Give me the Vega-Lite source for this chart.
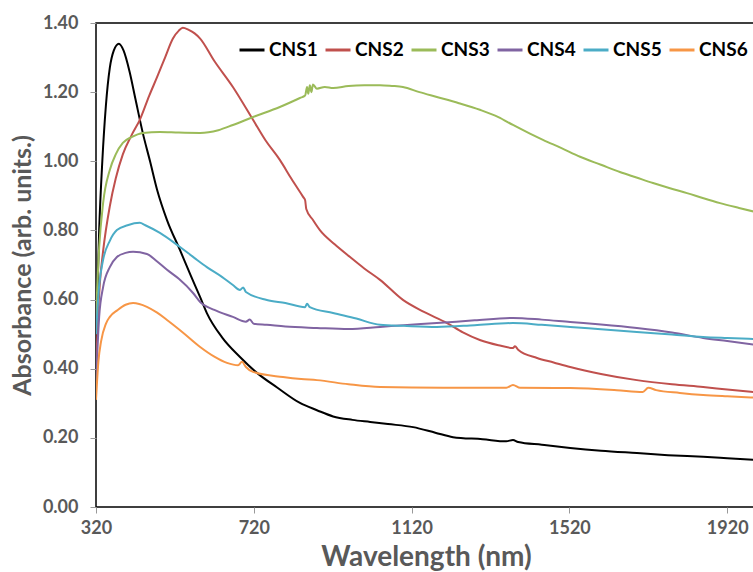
{
"$schema": "https://vega.github.io/schema/vega-lite/v6.json",
"width": 660, "height": 484,
"autosize": "none",
"padding": {"left": 96, "top": 23, "right": 0, "bottom": 65},
"background": "white",
"config": {"view": {"stroke": "#000000", "strokeWidth": 1.5}, "font": "Lato"},
"data": {"values": [
{"s":"CNS1","w":320,"a":0.47},{"s":"CNS1","w":328,"a":0.80},{"s":"CNS1","w":336,"a":1.00},{"s":"CNS1","w":345,"a":1.16},{"s":"CNS1","w":355,"a":1.27},{"s":"CNS1","w":365,"a":1.32},{"s":"CNS1","w":378,"a":1.34},{"s":"CNS1","w":390,"a":1.32},{"s":"CNS1","w":405,"a":1.26},{"s":"CNS1","w":420,"a":1.18},{"s":"CNS1","w":439,"a":1.08},{"s":"CNS1","w":457,"a":1.00},{"s":"CNS1","w":475,"a":0.917},{"s":"CNS1","w":500,"a":0.83},{"s":"CNS1","w":533,"a":0.743},{"s":"CNS1","w":560,"a":0.67},{"s":"CNS1","w":584,"a":0.607},{"s":"CNS1","w":601,"a":0.561},{"s":"CNS1","w":640,"a":0.49},{"s":"CNS1","w":685,"a":0.434},{"s":"CNS1","w":728,"a":0.388},{"s":"CNS1","w":780,"a":0.345},{"s":"CNS1","w":837,"a":0.301},{"s":"CNS1","w":880,"a":0.28},{"s":"CNS1","w":921,"a":0.262},{"s":"CNS1","w":970,"a":0.252},{"s":"CNS1","w":1015,"a":0.246},{"s":"CNS1","w":1060,"a":0.240},{"s":"CNS1","w":1124,"a":0.231},{"s":"CNS1","w":1180,"a":0.215},{"s":"CNS1","w":1225,"a":0.202},{"s":"CNS1","w":1300,"a":0.196},{"s":"CNS1","w":1360,"a":0.190},{"s":"CNS1","w":1377,"a":0.194},{"s":"CNS1","w":1390,"a":0.188},{"s":"CNS1","w":1450,"a":0.180},{"s":"CNS1","w":1522,"a":0.171},{"s":"CNS1","w":1600,"a":0.163},{"s":"CNS1","w":1691,"a":0.156},{"s":"CNS1","w":1770,"a":0.150},{"s":"CNS1","w":1859,"a":0.145},{"s":"CNS1","w":1920,"a":0.141},{"s":"CNS1","w":1993,"a":0.136},
{"s":"CNS2","w":320,"a":0.39},{"s":"CNS2","w":325,"a":0.55},{"s":"CNS2","w":330,"a":0.65},{"s":"CNS2","w":338,"a":0.74},{"s":"CNS2","w":355,"a":0.87},{"s":"CNS2","w":370,"a":0.95},{"s":"CNS2","w":388,"a":1.02},{"s":"CNS2","w":410,"a":1.075},{"s":"CNS2","w":431,"a":1.12},{"s":"CNS2","w":455,"a":1.19},{"s":"CNS2","w":475,"a":1.244},{"s":"CNS2","w":495,"a":1.30},{"s":"CNS2","w":515,"a":1.355},{"s":"CNS2","w":530,"a":1.378},{"s":"CNS2","w":540,"a":1.386},{"s":"CNS2","w":555,"a":1.38},{"s":"CNS2","w":570,"a":1.37},{"s":"CNS2","w":584,"a":1.355},{"s":"CNS2","w":620,"a":1.29},{"s":"CNS2","w":667,"a":1.215},{"s":"CNS2","w":718,"a":1.12},{"s":"CNS2","w":750,"a":1.06},{"s":"CNS2","w":786,"a":1.004},{"s":"CNS2","w":815,"a":0.95},{"s":"CNS2","w":845,"a":0.897},{"s":"CNS2","w":850,"a":0.888},{"s":"CNS2","w":853,"a":0.862},{"s":"CNS2","w":870,"a":0.83},{"s":"CNS2","w":888,"a":0.80},{"s":"CNS2","w":925,"a":0.76},{"s":"CNS2","w":964,"a":0.723},{"s":"CNS2","w":1000,"a":0.69},{"s":"CNS2","w":1040,"a":0.657},{"s":"CNS2","w":1098,"a":0.599},{"s":"CNS2","w":1150,"a":0.565},{"s":"CNS2","w":1210,"a":0.532},{"s":"CNS2","w":1250,"a":0.505},{"s":"CNS2","w":1293,"a":0.483},{"s":"CNS2","w":1340,"a":0.468},{"s":"CNS2","w":1377,"a":0.460},{"s":"CNS2","w":1382,"a":0.465},{"s":"CNS2","w":1390,"a":0.455},{"s":"CNS2","w":1438,"a":0.431},{"s":"CNS2","w":1480,"a":0.418},{"s":"CNS2","w":1522,"a":0.405},{"s":"CNS2","w":1600,"a":0.385},{"s":"CNS2","w":1691,"a":0.367},{"s":"CNS2","w":1780,"a":0.355},{"s":"CNS2","w":1859,"a":0.347},{"s":"CNS2","w":1920,"a":0.340},{"s":"CNS2","w":1993,"a":0.332},
{"s":"CNS3","w":320,"a":0.55},{"s":"CNS3","w":328,"a":0.75},{"s":"CNS3","w":338,"a":0.879},{"s":"CNS3","w":355,"a":0.975},{"s":"CNS3","w":370,"a":1.02},{"s":"CNS3","w":388,"a":1.053},{"s":"CNS3","w":410,"a":1.07},{"s":"CNS3","w":439,"a":1.082},{"s":"CNS3","w":482,"a":1.085},{"s":"CNS3","w":530,"a":1.083},{"s":"CNS3","w":584,"a":1.082},{"s":"CNS3","w":630,"a":1.09},{"s":"CNS3","w":667,"a":1.105},{"s":"CNS3","w":718,"a":1.128},{"s":"CNS3","w":786,"a":1.157},{"s":"CNS3","w":837,"a":1.183},{"s":"CNS3","w":850,"a":1.19},{"s":"CNS3","w":855,"a":1.215},{"s":"CNS3","w":858,"a":1.195},{"s":"CNS3","w":862,"a":1.22},{"s":"CNS3","w":866,"a":1.2},{"s":"CNS3","w":870,"a":1.222},{"s":"CNS3","w":880,"a":1.21},{"s":"CNS3","w":900,"a":1.215},{"s":"CNS3","w":921,"a":1.212},{"s":"CNS3","w":960,"a":1.218},{"s":"CNS3","w":1000,"a":1.22},{"s":"CNS3","w":1040,"a":1.22},{"s":"CNS3","w":1070,"a":1.218},{"s":"CNS3","w":1098,"a":1.215},{"s":"CNS3","w":1140,"a":1.2},{"s":"CNS3","w":1184,"a":1.186},{"s":"CNS3","w":1240,"a":1.168},{"s":"CNS3","w":1293,"a":1.149},{"s":"CNS3","w":1340,"a":1.128},{"s":"CNS3","w":1377,"a":1.105},{"s":"CNS3","w":1420,"a":1.08},{"s":"CNS3","w":1453,"a":1.062},{"s":"CNS3","w":1500,"a":1.038},{"s":"CNS3","w":1547,"a":1.013},{"s":"CNS3","w":1600,"a":0.99},{"s":"CNS3","w":1648,"a":0.969},{"s":"CNS3","w":1690,"a":0.953},{"s":"CNS3","w":1732,"a":0.937},{"s":"CNS3","w":1775,"a":0.922},{"s":"CNS3","w":1818,"a":0.908},{"s":"CNS3","w":1860,"a":0.893},{"s":"CNS3","w":1902,"a":0.879},{"s":"CNS3","w":1950,"a":0.865},{"s":"CNS3","w":1993,"a":0.853},
{"s":"CNS4","w":320,"a":0.36},{"s":"CNS4","w":328,"a":0.55},{"s":"CNS4","w":338,"a":0.636},{"s":"CNS4","w":355,"a":0.694},{"s":"CNS4","w":373,"a":0.723},{"s":"CNS4","w":395,"a":0.735},{"s":"CNS4","w":414,"a":0.738},{"s":"CNS4","w":449,"a":0.732},{"s":"CNS4","w":475,"a":0.71},{"s":"CNS4","w":500,"a":0.686},{"s":"CNS4","w":530,"a":0.66},{"s":"CNS4","w":566,"a":0.619},{"s":"CNS4","w":584,"a":0.593},{"s":"CNS4","w":620,"a":0.57},{"s":"CNS4","w":667,"a":0.55},{"s":"CNS4","w":700,"a":0.536},{"s":"CNS4","w":710,"a":0.542},{"s":"CNS4","w":720,"a":0.53},{"s":"CNS4","w":753,"a":0.527},{"s":"CNS4","w":800,"a":0.522},{"s":"CNS4","w":880,"a":0.518},{"s":"CNS4","w":960,"a":0.515},{"s":"CNS4","w":1040,"a":0.521},{"s":"CNS4","w":1100,"a":0.526},{"s":"CNS4","w":1184,"a":0.532},{"s":"CNS4","w":1280,"a":0.54},{"s":"CNS4","w":1377,"a":0.547},{"s":"CNS4","w":1450,"a":0.542},{"s":"CNS4","w":1522,"a":0.535},{"s":"CNS4","w":1600,"a":0.528},{"s":"CNS4","w":1691,"a":0.518},{"s":"CNS4","w":1780,"a":0.505},{"s":"CNS4","w":1859,"a":0.489},{"s":"CNS4","w":1920,"a":0.48},{"s":"CNS4","w":1993,"a":0.469},
{"s":"CNS5","w":320,"a":0.50},{"s":"CNS5","w":328,"a":0.64},{"s":"CNS5","w":338,"a":0.715},{"s":"CNS5","w":355,"a":0.77},{"s":"CNS5","w":373,"a":0.801},{"s":"CNS5","w":400,"a":0.815},{"s":"CNS5","w":431,"a":0.822},{"s":"CNS5","w":445,"a":0.815},{"s":"CNS5","w":482,"a":0.793},{"s":"CNS5","w":533,"a":0.752},{"s":"CNS5","w":570,"a":0.72},{"s":"CNS5","w":601,"a":0.694},{"s":"CNS5","w":640,"a":0.665},{"s":"CNS5","w":667,"a":0.642},{"s":"CNS5","w":685,"a":0.628},{"s":"CNS5","w":693,"a":0.635},{"s":"CNS5","w":700,"a":0.622},{"s":"CNS5","w":753,"a":0.599},{"s":"CNS5","w":800,"a":0.59},{"s":"CNS5","w":850,"a":0.578},{"s":"CNS5","w":855,"a":0.588},{"s":"CNS5","w":862,"a":0.578},{"s":"CNS5","w":921,"a":0.561},{"s":"CNS5","w":980,"a":0.545},{"s":"CNS5","w":1040,"a":0.527},{"s":"CNS5","w":1100,"a":0.524},{"s":"CNS5","w":1184,"a":0.521},{"s":"CNS5","w":1280,"a":0.526},{"s":"CNS5","w":1377,"a":0.532},{"s":"CNS5","w":1450,"a":0.527},{"s":"CNS5","w":1522,"a":0.521},{"s":"CNS5","w":1600,"a":0.514},{"s":"CNS5","w":1691,"a":0.506},{"s":"CNS5","w":1780,"a":0.499},{"s":"CNS5","w":1859,"a":0.492},{"s":"CNS5","w":1920,"a":0.489},{"s":"CNS5","w":1993,"a":0.486},
{"s":"CNS6","w":320,"a":0.31},{"s":"CNS6","w":326,"a":0.42},{"s":"CNS6","w":333,"a":0.48},{"s":"CNS6","w":345,"a":0.53},{"s":"CNS6","w":355,"a":0.55},{"s":"CNS6","w":375,"a":0.57},{"s":"CNS6","w":395,"a":0.585},{"s":"CNS6","w":414,"a":0.59},{"s":"CNS6","w":449,"a":0.579},{"s":"CNS6","w":475,"a":0.562},{"s":"CNS6","w":500,"a":0.541},{"s":"CNS6","w":540,"a":0.505},{"s":"CNS6","w":584,"a":0.463},{"s":"CNS6","w":620,"a":0.435},{"s":"CNS6","w":652,"a":0.417},{"s":"CNS6","w":680,"a":0.41},{"s":"CNS6","w":690,"a":0.42},{"s":"CNS6","w":700,"a":0.405},{"s":"CNS6","w":718,"a":0.391},{"s":"CNS6","w":794,"a":0.376},{"s":"CNS6","w":840,"a":0.37},{"s":"CNS6","w":880,"a":0.367},{"s":"CNS6","w":960,"a":0.355},{"s":"CNS6","w":1040,"a":0.347},{"s":"CNS6","w":1200,"a":0.345},{"s":"CNS6","w":1360,"a":0.345},{"s":"CNS6","w":1377,"a":0.353},{"s":"CNS6","w":1395,"a":0.345},{"s":"CNS6","w":1522,"a":0.344},{"s":"CNS6","w":1640,"a":0.338},{"s":"CNS6","w":1706,"a":0.333},{"s":"CNS6","w":1720,"a":0.345},{"s":"CNS6","w":1740,"a":0.338},{"s":"CNS6","w":1800,"a":0.33},{"s":"CNS6","w":1859,"a":0.324},{"s":"CNS6","w":1920,"a":0.32},{"s":"CNS6","w":1993,"a":0.316}
]},
"mark": {"type": "line", "strokeWidth": 2, "clip": true, "interpolate": "monotone"},
"encoding": {
  "x": {"field": "w", "type": "quantitative",
    "scale": {"domain": [320, 1993], "nice": false, "zero": false},
    "axis": {"values": [320, 720, 1120, 1520, 1920], "format": "d", "labelFlush": false, "title": "Wavelength (nm)", "grid": false, "domain": false,
      "tickColor": "#999999", "tickSize": 6, "labelFont": "Lato", "labelFontWeight": "bold", "labelFontSize": 18,
      "labelColor": "#595959", "labelPadding": 6, "titleFont": "Lato", "titleFontSize": 28, "titleColor": "#595959",
      "titleFontWeight": "bold", "titlePadding": 6}},
  "y": {"field": "a", "type": "quantitative",
    "scale": {"domain": [0, 1.4], "nice": false},
    "axis": {"values": [0, 0.2, 0.4, 0.6, 0.8, 1.0, 1.2, 1.4], "format": ".2f", "labelFlush": false, "title": "Absorbance (arb. units.)", "grid": false, "domain": false,
      "tickColor": "#999999", "tickSize": 6, "labelFont": "Lato", "labelFontWeight": "bold", "labelFontSize": 18,
      "labelColor": "#595959", "labelPadding": 12, "titleFont": "Lato", "titleFontSize": 25, "titleColor": "#595959",
      "titleFontWeight": "bold", "titlePadding": 7}},
  "color": {"field": "s", "type": "nominal",
    "scale": {"domain": ["CNS1", "CNS2", "CNS3", "CNS4", "CNS5", "CNS6"], "range": ["#000000", "#C0504D", "#9BBB59", "#8064A2", "#4BACC6", "#F79646"]},
    "legend": {"orient": "none", "legendX": 142, "legendY": 13, "direction": "horizontal", "title": null,
      "symbolType": "stroke", "symbolSize": 625, "symbolStrokeWidth": 3, "labelFont": "Lato", "labelFontSize": 19,
      "labelFontWeight": "bold", "labelColor": "#000000", "labelOffset": 3, "columnPadding": 1,
      "encode": {"symbols": {"update": {"stroke": {"signal": "{'CNS1':'#000000','CNS2':'#C00000','CNS3':'#92D050','CNS4':'#7030A0','CNS5':'#00B0F0','CNS6':'#F38B3F'}[datum.value]"}}}}}}
}
}
